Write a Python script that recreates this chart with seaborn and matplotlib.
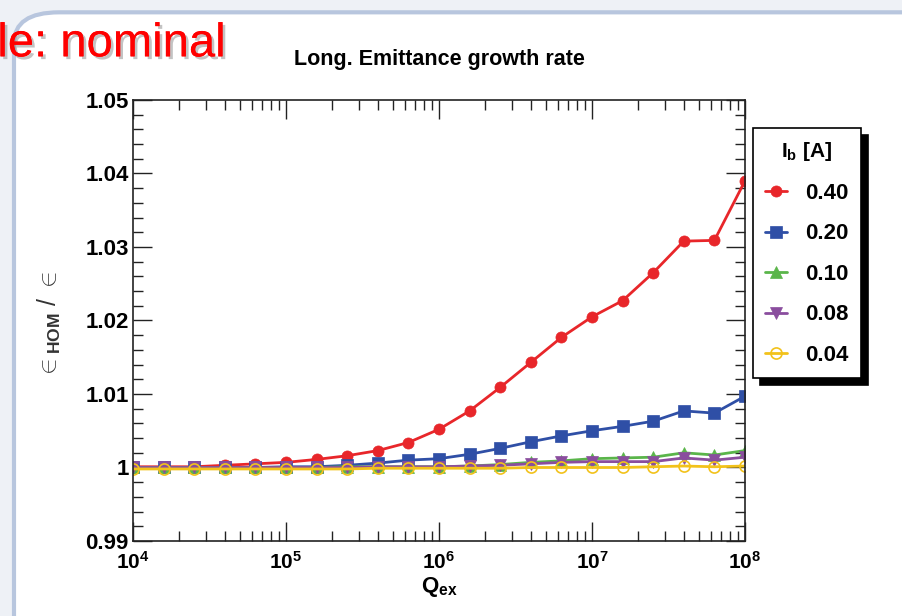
import numpy as np
import pandas as pd
import matplotlib
matplotlib.use("Agg")
import matplotlib.pyplot as plt
import seaborn as sns
from matplotlib.patches import FancyBboxPatch
from matplotlib.ticker import LogLocator, MultipleLocator, NullFormatter
import matplotlib.patheffects as pe

# ---------------- data ----------------
log_q = [4.0, 4.2, 4.4, 4.6, 4.8, 5.0, 5.2, 5.4, 5.6, 5.8, 6.0,
         6.2, 6.4, 6.6, 6.8, 7.0, 7.2, 7.4, 7.6, 7.8, 8.0]
q_ex = [10 ** v for v in log_q]

ib_040 = [1.0001, 1.0001, 1.0001, 1.0003, 1.0005, 1.0007, 1.0011, 1.0016, 1.0023, 1.0034, 1.0052,
          1.0077, 1.0109, 1.0143, 1.0177, 1.0205, 1.0227, 1.0265, 1.0308, 1.0309, 1.0390]
ib_020 = [1.0000, 1.0000, 1.0000, 1.0000, 1.0000, 1.0001, 1.0001, 1.0003, 1.0006, 1.0010, 1.0012,
          1.0018, 1.0026, 1.0035, 1.0043, 1.0050, 1.0056, 1.0063, 1.0077, 1.0074, 1.0097]
ib_010 = [1.0000, 1.0000, 1.0000, 1.0000, 1.0000, 1.0000, 1.0000, 1.0001, 1.0001, 1.0001, 1.0001,
          1.0002, 1.0004, 1.0007, 1.0009, 1.0012, 1.0013, 1.0014, 1.0020, 1.0017, 1.0023]
ib_008 = [1.0000, 1.0000, 1.0000, 1.0000, 1.0000, 1.0000, 1.0000, 1.0000, 1.0001, 1.0001, 1.0001,
          1.0002, 1.0003, 1.0005, 1.0007, 1.0008, 1.0008, 1.0008, 1.0013, 1.0010, 1.0014]
ib_004 = [0.9998, 0.9998, 0.9998, 0.9998, 0.9998, 0.9998, 0.9998, 0.9998, 0.9999, 0.9999, 0.9999,
          0.9999, 0.9999, 1.0000, 1.0000, 1.0000, 1.0000, 1.0001, 1.0002, 1.0001, 1.0002]

series_labels = ["0.40", "0.20", "0.10", "0.08", "0.04"]
series_values = [ib_040, ib_020, ib_010, ib_008, ib_004]

y_ticks = [0.99, 1.00, 1.01, 1.02, 1.03, 1.04, 1.05]
y_tick_labels = ["0.99", "1", "1.01", "1.02", "1.03", "1.04", "1.05"]
x_ticks = [1e4, 1e5, 1e6, 1e7, 1e8]
x_tick_labels = [r"$\mathbf{10^{4}}$", r"$\mathbf{10^{5}}$", r"$\mathbf{10^{6}}$",
                 r"$\mathbf{10^{7}}$", r"$\mathbf{10^{8}}$"]

# ---------------- style ----------------
sns.set_theme(style="ticks")
plt.rcParams["font.family"] = ["Liberation Sans", "DejaVu Sans"]
plt.rcParams["mathtext.fontset"] = "custom"
plt.rcParams["mathtext.rm"] = "Liberation Sans"
plt.rcParams["mathtext.bf"] = "Liberation Sans:bold"
plt.rcParams["mathtext.it"] = "Liberation Sans:italic"
plt.rcParams["text.color"] = "black"
plt.rcParams["axes.labelcolor"] = "black"
plt.rcParams["xtick.color"] = "black"
plt.rcParams["ytick.color"] = "black"

colors = ["#e8262a", "#2f4fa6", "#5ab54a", "#8a4d9e", "#f2c21b"]
markers = ["o", "s", "^", "v", "o"]
fills = [True, True, True, True, False]

fig = plt.figure(figsize=(9.02, 6.16), dpi=100)
fig.patch.set_facecolor("#eef1f6")

# slide frame
frame = FancyBboxPatch((14 / 902, -0.05), 1.2, 1.03,
                       boxstyle="round,pad=0,rounding_size=0.05",
                       transform=fig.transFigure, facecolor="white",
                       edgecolor="#b8c6de", linewidth=3, zorder=-5)
fig.patches.append(frame)

# slide title fragment
fig.text(-0.003, 0.928, "le: nominal", color="#ff0000", fontsize=34,
         ha="left", va="center",
         path_effects=[pe.withSimplePatchShadow(offset=(2, -2), shadow_rgbFace="#888888", alpha=0.5),
                       pe.Normal()])

ax = fig.add_axes([133 / 902, 1 - 541 / 616, 612 / 902, 441 / 616])
ax.set_facecolor("white")

for lab, vals, c, m, f in zip(series_labels, series_values, colors, markers, fills):
    sns.lineplot(x=q_ex, y=vals, ax=ax, color=c, marker=m, markersize=8,
                 markerfacecolor=c if f else "none", markeredgecolor=c,
                 markeredgewidth=1.2 if not f else 0.5, linewidth=2, label=lab)

ax.set_xscale("log")
ax.set_xlim(1e4, 1e8)
ax.set_ylim(0.99, 1.05)
ax.set_xticks(x_ticks)
ax.set_xticklabels(x_tick_labels, fontsize=15)
ax.xaxis.set_minor_locator(LogLocator(base=10, subs=np.arange(2, 10), numticks=20))
ax.xaxis.set_minor_formatter(NullFormatter())
ax.set_yticks(y_ticks)
ax.set_yticklabels(y_tick_labels, fontsize=16, fontweight="bold")
ax.yaxis.set_minor_locator(MultipleLocator(0.002))

ax.tick_params(which="both", direction="in", top=True, right=True, color="#222222")
ax.tick_params(axis="y", which="major", length=14, width=1, pad=3)
ax.tick_params(axis="y", which="minor", length=7, width=1)
ax.tick_params(axis="x", which="major", length=14, width=1, pad=7)
ax.tick_params(axis="x", which="minor", length=7, width=1)
for s in ax.spines.values():
    s.set_linewidth(1.2)
    s.set_color("#222222")

ax.set_title("Long. Emittance growth rate", fontsize=15.5, fontweight="bold", pad=25)
ax.set_xlabel(r"$\mathbf{Q}_{\mathbf{ex}}$", fontsize=16, labelpad=2)
ax.set_ylabel(r"$\in_{\mathbf{HOM}}$ / $\in$", fontsize=18, color="#333333", labelpad=14)
ax.yaxis.set_label_coords(-0.114, 0.49)

handles, labels = ax.get_legend_handles_labels()
ax.get_legend().remove()
leg = fig.legend(handles, labels, title=r"$\mathbf{I_b}$ [A]",
                 loc="upper left", bbox_to_anchor=(753 / 902, 1 - 128 / 616),
                 frameon=True, fancybox=False, edgecolor="black", framealpha=1,
                 shadow={"ox": 5, "oy": -5, "color": "black", "alpha": 1},
                 prop={"weight": "bold", "size": 16}, title_fontproperties={"weight": "bold", "size": 15},
                 handlelength=1.0, labelspacing=0.88, borderpad=0.55, handletextpad=0.8,
                 borderaxespad=0)
leg.get_frame().set_linewidth(1.2)

fig.savefig("out.png", dpi=100, facecolor=fig.get_facecolor())
